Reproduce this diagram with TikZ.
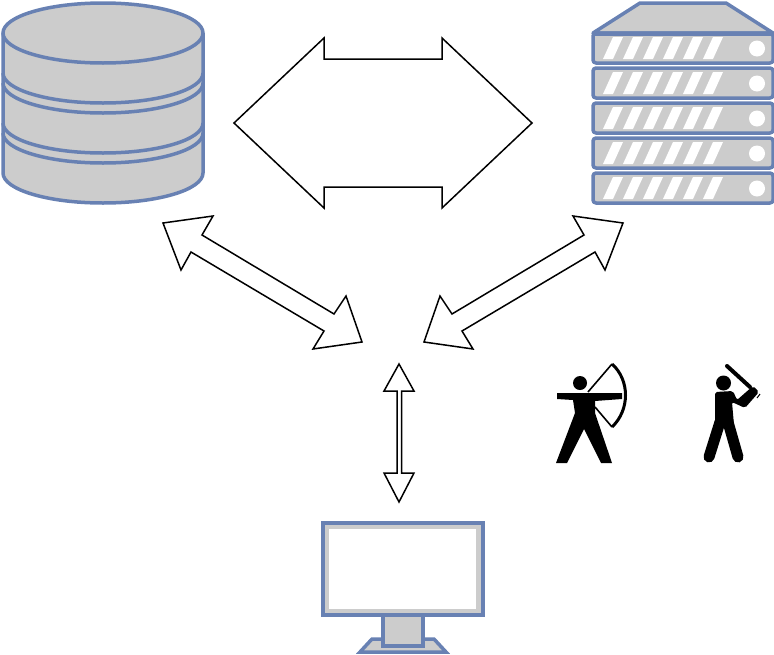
\documentclass[tikz,border=0pt]{standalone}
\definecolor{devblue}{HTML}{6881B3}
\definecolor{devgray}{HTML}{CCCCCC}
\tikzstyle{dev} = [draw=devblue, fill=devgray, line width=3.5pt, line join=round]
\tikzstyle{arrowshape} = [draw=black, fill=white, line width=1.5pt, line join=miter]
\tikzstyle{glyph} = [fill=black, draw=none]
\begin{document}
\begin{tikzpicture}[x=1pt, y=-1pt]
        \useasboundingbox (0,0) rectangle (774,654);

        % database
        \draw [dev] (3,33) -- (3,173) arc[start angle=180, end angle=360, x radius=100, y radius=-30] -- (203,33) -- cycle;
        \foreach \y in {73,83,123,133} {
            \draw [devblue, line width=3.5pt] (3,\y) arc[start angle=180, end angle=360, x radius=100, y radius=-30];
        }
        \draw [dev] (103,33) ellipse [x radius=100, y radius=30];

        % server
        \draw [dev] (593,33) -- (640,3) -- (726,3) -- (773,33) -- cycle;
        \foreach \y in {33,68,103,138,173} {
            \draw [dev, rounded corners=3pt] (593,\y) rectangle (773,\y+30);
            \foreach \x in {0,20,...,100} {
                \fill [white] (613+\x,\y+4) -- (623+\x,\y+4) -- (613+\x,\y+26) -- (603+\x,\y+26) -- cycle;
            }
            \fill [white] (757,\y+15.5) circle (8);
        }
        \draw [devblue, line width=3.5pt] (593,34.5) -- (773,34.5);

        % monitor
        \draw [dev, line join=miter] (372,639) -- (434,639) -- (446,652) -- (360,652) -- cycle;
        \draw [dev, line join=miter] (383,615) rectangle (423,646);
        \draw [dev, line join=miter] (323,523) rectangle (483,615);
        \fill [white] (329,529) rectangle (476,609);

        % block arrows
        \draw [arrowshape] (234,123) -- (324,38) -- (324,59) -- (442,59) -- (442,38) -- (532,123) -- (442,208) -- (442,187) -- (324,187) -- (324,208) -- cycle;
        \draw [arrowshape] (163,223) -- (213,216) -- (202,235) -- (334,314) -- (346,296) -- (362,342) -- (313,349) -- (324,331) -- (191,252) -- (181,270) -- cycle;
        \draw [arrowshape] (623,223) -- (573,216) -- (584,235) -- (452,314) -- (440,296) -- (424,342) -- (473,349) -- (462,331) -- (595,252) -- (605,270) -- cycle;
        \draw [arrowshape] (399,364) -- (414,391) -- (401.5,391) -- (401.5,473) -- (414,473) -- (399,502) -- (384,473) -- (397,473) -- (397,391) -- (384,391) -- cycle;

        % archer
        \fill [glyph] (580,383) circle (7);
        \fill [glyph] (557,393) -- (587,393) -- (622,393) -- (622,399) -- (595,401) -- (595,413) -- (612,463) -- (601,463) -- (584,429) -- (567,463) -- (556,463) -- (575,413) -- (573,400) -- (557,399) -- cycle;
        \draw [black, line width=1.6pt] (588,392) -- (612,364) (595,407) -- (612,427);
        \draw [black, line width=3pt] (612,364) .. controls (630,380) and (630,410) .. (612,427);

        % batter
        \fill [glyph] (723.5,383) circle (7.5);
        \fill [glyph, rounded corners=2pt] (715,392) -- (733,391) -- (737,400) -- (753,386) -- (759,392) -- (745,408) -- (732,402) -- (734,425) -- (715,425) -- cycle;
        \draw [black, line width=11pt, line cap=round] (720,422) -- (709,457) (728,422) -- (738,457);
        \draw [black, line width=4pt, line cap=round] (727,366) -- (750,387);
        \draw [black, line width=1pt] (760,394) -- (757,398);
    \end{tikzpicture}
\end{document}
